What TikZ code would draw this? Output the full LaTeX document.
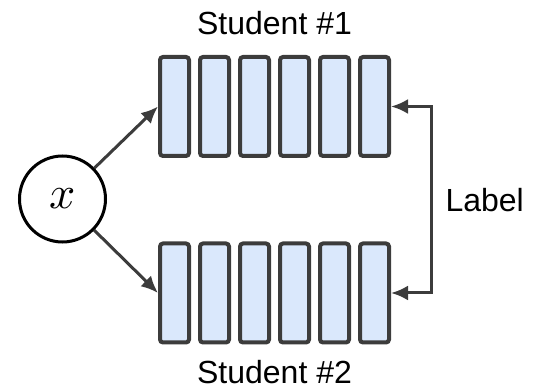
\documentclass[tikz,border=0pt]{standalone}
\usepackage{fontspec}
\usepackage{unicode-math}
\setmainfont{Liberation Sans}
\setmathfont{Latin Modern Math}
\usetikzlibrary{arrows.meta, calc, positioning}

\definecolor{barfill}{HTML}{DAE8FC}
\definecolor{darkline}{HTML}{3C3C3C}

\tikzset{
  bar/.style={draw=darkline, fill=barfill, line width=4pt, rounded corners=3pt,
    minimum width=29pt, minimum height=99pt, inner sep=0pt},
  conn/.style={draw=darkline, line width=3pt},
}

\begin{document}
\begin{tikzpicture}[x=1pt, y=1pt, >={Latex[length=17pt,width=15pt]},
    font=\fontsize{32}{38}\selectfont]
  \useasboundingbox (0,0) rectangle (533,391);

  % input
  \node[circle, draw, line width=3pt, minimum size=86pt, inner sep=0pt,
    font=\fontsize{46}{46}\selectfont] (x) at (62.5,192) {\raisebox{-4pt}{$x$}};

  % first student
  \node[bar] (s1a) at (174.5,284.5) {};
  \node[bar, right=7pt of s1a] (s1b) {};
  \node[bar, right=7pt of s1b] (s1c) {};
  \node[bar, right=7pt of s1c] (s1d) {};
  \node[bar, right=7pt of s1d] (s1e) {};
  \node[bar, right=7pt of s1e] (s1f) {};

  % second student
  \node[bar] (s2a) at (174.5,98) {};
  \node[bar, right=7pt of s2a] (s2b) {};
  \node[bar, right=7pt of s2b] (s2c) {};
  \node[bar, right=7pt of s2c] (s2d) {};
  \node[bar, right=7pt of s2d] (s2e) {};
  \node[bar, right=7pt of s2e] (s2f) {};

  \coordinate (top1) at ($(s1c.north)!0.5!(s1d.north)$);
  \coordinate (bot2) at ($(s2c.south)!0.5!(s2d.south)$);
  \node[above=20pt of top1, inner sep=0pt] (st1) {Student \#1};
  \node[below=16pt of bot2, inner sep=0pt] (st2) {Student \#2};

  \draw[conn, ->] (x) -- (s1a.west);
  \draw[conn, ->] (x) -- (s2a.west);
  \draw[conn, <->] (s1f.east) -- ++(40,0) |- node[pos=0.25, right=13pt, inner sep=0pt] (lbl) {Label} (s2f.east);
\end{tikzpicture}
\end{document}
